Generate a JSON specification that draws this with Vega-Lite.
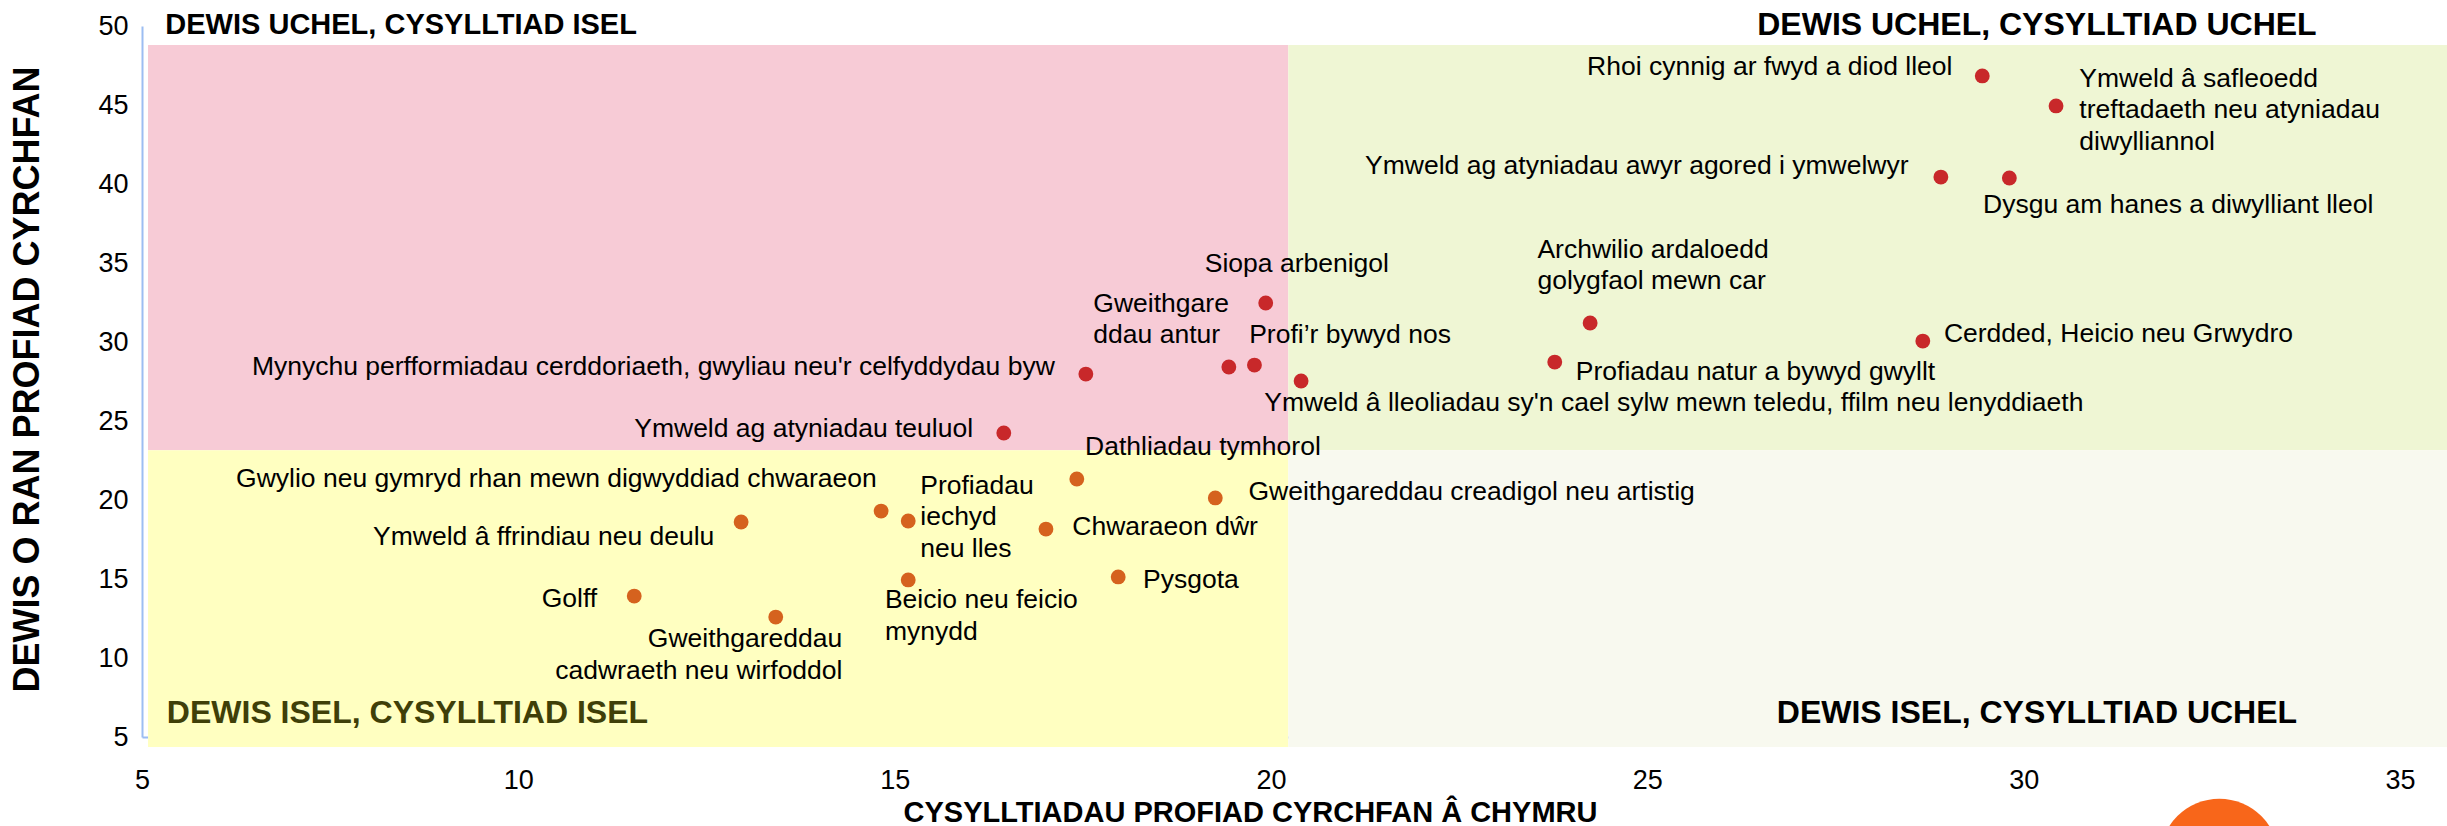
{
  "$schema": "https://vega.github.io/schema/vega-lite/v6.json",
  "width": 2258,
  "height": 711,
  "autosize": {"type": "none"},
  "padding": {"left": 142, "top": 26, "right": 47, "bottom": 89},
  "background": "white",
  "config": {
    "view": {"stroke": null},
    "font": "Liberation Sans",
    "axisX": {
      "titleFontSize": 29, "titleFontWeight": "bold", "titleFont": "Liberation Sans", "titleColor": "black",
      "titleX": 1108, "titleY": 84, "titleBaseline": "alphabetic", "titleAlign": "center",
      "labelFontSize": 27, "labelFont": "Liberation Sans", "labelColor": "black",
      "labelPadding": 30, "labelFlush": false, "labelOverlap": false, "labelBound": false,
      "ticks": false, "tickSize": 0, "grid": false,
      "domainColor": "#9CBDF2", "domainWidth": 2, "domainOpacity": 1, "zindex": 1
    },
    "axisY": {
      "titleFontSize": 36, "titleFontWeight": "bold", "titleFont": "Liberation Sans", "titleColor": "black",
      "titleX": -115, "titleY": 353, "titleAngle": 270, "titleBaseline": "middle", "titleAlign": "center",
      "labelFontSize": 27, "labelFont": "Liberation Sans", "labelColor": "black",
      "labelPadding": 14, "labelFlush": false, "labelOverlap": false, "labelBound": false,
      "ticks": false, "tickSize": 0, "grid": false,
      "domainColor": "#9CBDF2", "domainWidth": 2, "domainOpacity": 1, "zindex": 1
    }
  },
  "datasets": {
    "cwadrantau": [
      {"cwadrant": "Dewis uchel, cysylltiad isel", "x1": 5.08, "x2": 20.23, "y1": 23.15, "y2": 48.8},
      {"cwadrant": "Dewis uchel, cysylltiad uchel", "x1": 20.23, "x2": 36, "y1": 23.15, "y2": 48.8},
      {"cwadrant": "Dewis isel, cysylltiad isel", "x1": 5.08, "x2": 20.23, "y1": 4.37, "y2": 23.15},
      {"cwadrant": "Dewis isel, cysylltiad uchel", "x1": 20.23, "x2": 36, "y1": 4.37, "y2": 23.15}
    ],
    "teitlau": [
      {"teitl": "DEWIS UCHEL, CYSYLLTIAD ISEL", "x": 5.31, "y": 49.49, "cornel": "chwith-uchaf"},
      {"teitl": "DEWIS UCHEL, CYSYLLTIAD UCHEL", "x": 26.46, "y": 49.43, "cornel": "dde-uchaf"},
      {"teitl": "DEWIS ISEL, CYSYLLTIAD ISEL", "x": 5.33, "y": 5.89, "cornel": "chwith-isaf"},
      {"teitl": "DEWIS ISEL, CYSYLLTIAD UCHEL", "x": 26.72, "y": 5.89, "cornel": "dde-isaf"}
    ],
    "logo": [
      {"elfen": "cylch logo", "x": 32.6, "y": -2.66}
    ],
    "gweithgareddau": [
      {"gweithgaredd": "Rhoi cynnig ar fwyd a diod lleol", "cysylltiad": 29.45, "dewis": 46.84, "grwp": "uchel"},
      {"gweithgaredd": "Ymweld â safleoedd treftadaeth neu atyniadau diwylliannol", "cysylltiad": 30.43, "dewis": 44.94, "grwp": "uchel"},
      {"gweithgaredd": "Ymweld ag atyniadau awyr agored i ymwelwyr", "cysylltiad": 28.9, "dewis": 40.44, "grwp": "uchel"},
      {"gweithgaredd": "Dysgu am hanes a diwylliant lleol", "cysylltiad": 29.81, "dewis": 40.38, "grwp": "uchel"},
      {"gweithgaredd": "Archwilio ardaloedd golygfaol mewn car", "cysylltiad": 24.24, "dewis": 31.2, "grwp": "uchel"},
      {"gweithgaredd": "Cerdded, Heicio neu Grwydro", "cysylltiad": 28.66, "dewis": 30.06, "grwp": "uchel"},
      {"gweithgaredd": "Profiadau natur a bywyd gwyllt", "cysylltiad": 23.77, "dewis": 28.73, "grwp": "uchel"},
      {"gweithgaredd": "Siopa arbenigol", "cysylltiad": 19.93, "dewis": 32.47, "grwp": "uchel"},
      {"gweithgaredd": "Gweithgareddau antur", "cysylltiad": 19.44, "dewis": 28.42, "grwp": "uchel"},
      {"gweithgaredd": "Profi’r bywyd nos", "cysylltiad": 19.78, "dewis": 28.54, "grwp": "uchel"},
      {"gweithgaredd": "Ymweld â lleoliadau sy'n cael sylw mewn teledu, ffilm neu lenyddiaeth", "cysylltiad": 20.4, "dewis": 27.53, "grwp": "uchel"},
      {"gweithgaredd": "Mynychu perfformiadau cerddoriaeth, gwyliau neu'r celfyddydau byw", "cysylltiad": 17.54, "dewis": 27.97, "grwp": "uchel"},
      {"gweithgaredd": "Ymweld ag atyniadau teuluol", "cysylltiad": 16.45, "dewis": 24.24, "grwp": "uchel"},
      {"gweithgaredd": "Dathliadau tymhorol", "cysylltiad": 17.42, "dewis": 21.33, "grwp": "isel"},
      {"gweithgaredd": "Gweithgareddau creadigol neu artistig", "cysylltiad": 19.26, "dewis": 20.13, "grwp": "isel"},
      {"gweithgaredd": "Gwylio neu gymryd rhan mewn digwyddiad chwaraeon", "cysylltiad": 14.82, "dewis": 19.3, "grwp": "isel"},
      {"gweithgaredd": "Profiadau iechyd neu lles", "cysylltiad": 15.18, "dewis": 18.67, "grwp": "isel"},
      {"gweithgaredd": "Chwaraeon dŵr", "cysylltiad": 17.01, "dewis": 18.16, "grwp": "isel"},
      {"gweithgaredd": "Ymweld â ffrindiau neu deulu", "cysylltiad": 12.96, "dewis": 18.61, "grwp": "isel"},
      {"gweithgaredd": "Pysgota", "cysylltiad": 17.97, "dewis": 15.13, "grwp": "isel"},
      {"gweithgaredd": "Beicio neu feicio mynydd", "cysylltiad": 15.18, "dewis": 14.94, "grwp": "isel"},
      {"gweithgaredd": "Golff", "cysylltiad": 11.54, "dewis": 13.92, "grwp": "isel"},
      {"gweithgaredd": "Gweithgareddau cadwraeth neu wirfoddol", "cysylltiad": 13.42, "dewis": 12.59, "grwp": "isel"}
    ],
    "labeli": [
      {"label": "Rhoi cynnig ar fwyd a diod lleol", "lx": 24.2, "ly": 46.9},
      {"label": "Ymweld â safleoedd\ntreftadaeth neu atyniadau\ndiwylliannol", "lx": 30.74, "ly": 46.14},
      {"label": "Ymweld ag atyniadau awyr agored i ymwelwyr", "lx": 21.25, "ly": 40.63},
      {"label": "Dysgu am hanes a diwylliant lleol", "lx": 29.46, "ly": 38.16},
      {"label": "Archwilio ardaloedd\ngolygfaol mewn car", "lx": 23.54, "ly": 35.32},
      {"label": "Cerdded, Heicio neu Grwydro", "lx": 28.94, "ly": 30.0},
      {"label": "Profiadau natur a bywyd gwyllt", "lx": 24.05, "ly": 27.59},
      {"label": "Ymweld â lleoliadau sy'n cael sylw mewn teledu, ffilm neu lenyddiaeth", "lx": 19.91, "ly": 25.63},
      {"label": "Siopa arbenigol", "lx": 19.12, "ly": 34.43},
      {"label": "Gweithgare\nddau antur", "lx": 17.64, "ly": 31.9},
      {"label": "Profi’r bywyd nos", "lx": 19.71, "ly": 29.94},
      {"label": "Mynychu perfformiadau cerddoriaeth, gwyliau neu'r celfyddydau byw", "lx": 6.46, "ly": 27.91},
      {"label": "Ymweld ag atyniadau teuluol", "lx": 11.54, "ly": 23.99},
      {"label": "Dathliadau tymhorol", "lx": 17.53, "ly": 22.85},
      {"label": "Gweithgareddau creadigol neu artistig", "lx": 19.7, "ly": 20.0},
      {"label": "Gwylio neu gymryd rhan mewn digwyddiad chwaraeon", "lx": 6.25, "ly": 20.82},
      {"label": "Profiadau\niechyd\nneu lles", "lx": 15.34, "ly": 20.38},
      {"label": "Chwaraeon dŵr", "lx": 17.36, "ly": 17.78},
      {"label": "Ymweld â ffrindiau neu deulu", "lx": 8.07, "ly": 17.15},
      {"label": "Pysgota", "lx": 18.3, "ly": 14.43},
      {"label": "Beicio neu feicio\nmynydd", "lx": 14.87, "ly": 13.16},
      {"label": "Golff", "lx": 10.31, "ly": 13.23},
      {"label": "Gweithgareddau", "lx": 11.72, "ly": 10.7},
      {"label": "cadwraeth neu wirfoddol", "lx": 10.49, "ly": 8.67}
    ]
  },
  "layer": [
    {
      "data": {"name": "cwadrantau"},
      "mark": {"type": "rect"},
      "encoding": {
        "x": {
          "field": "x1", "type": "quantitative",
          "scale": {"domain": [5, 35], "nice": false, "zero": false},
          "axis": {"title": "CYSYLLTIADAU PROFIAD CYRCHFAN Â CHYMRU", "values": [5, 10, 15, 20, 25, 30, 35]}
        },
        "x2": {"field": "x2"},
        "y": {
          "field": "y1", "type": "quantitative",
          "scale": {"domain": [5, 50], "nice": false, "zero": false},
          "axis": {"title": "DEWIS O RAN PROFIAD CYRCHFAN", "values": [5, 10, 15, 20, 25, 30, 35, 40, 45, 50]}
        },
        "y2": {"field": "y2"},
        "fill": {
          "field": "cwadrant", "type": "nominal",
          "scale": {
            "domain": ["Dewis uchel, cysylltiad isel", "Dewis uchel, cysylltiad uchel", "Dewis isel, cysylltiad isel", "Dewis isel, cysylltiad uchel"],
            "range": ["#F7CBD6", "#EFF6D4", "#FFFFC1", "#F8F9EF"]
          },
          "legend": null
        }
      }
    },
    {
      "data": {"name": "teitlau"},
      "mark": {"type": "text", "align": "left", "baseline": "alphabetic", "fontWeight": "bold", "font": "Liberation Sans"},
      "encoding": {
        "x": {"field": "x", "type": "quantitative", "scale": {"domain": [5, 35], "nice": false, "zero": false},
          "axis": {"title": "CYSYLLTIADAU PROFIAD CYRCHFAN Â CHYMRU", "values": [5, 10, 15, 20, 25, 30, 35]}},
        "y": {"field": "y", "type": "quantitative", "scale": {"domain": [5, 50], "nice": false, "zero": false},
          "axis": {"title": "DEWIS O RAN PROFIAD CYRCHFAN", "values": [5, 10, 15, 20, 25, 30, 35, 40, 45, 50]}},
        "text": {"field": "teitl"},
        "color": {
          "field": "cornel", "type": "nominal",
          "scale": {"domain": ["chwith-uchaf", "dde-uchaf", "chwith-isaf", "dde-isaf"], "range": ["#000000", "#000000", "#3F3F08", "#000000"]},
          "legend": null
        },
        "size": {
          "field": "cornel", "type": "nominal",
          "scale": {"type": "ordinal", "domain": ["chwith-uchaf", "dde-uchaf", "chwith-isaf", "dde-isaf"], "range": [29, 32, 32, 32]},
          "legend": null
        }
      }
    },
    {
      "data": {"name": "logo"},
      "mark": {"type": "circle", "size": 14100, "opacity": 1, "color": "#F8661A"},
      "encoding": {
        "x": {"field": "x", "type": "quantitative", "scale": {"domain": [5, 35], "nice": false, "zero": false},
          "axis": {"title": "CYSYLLTIADAU PROFIAD CYRCHFAN Â CHYMRU", "values": [5, 10, 15, 20, 25, 30, 35]}},
        "y": {"field": "y", "type": "quantitative", "scale": {"domain": [5, 50], "nice": false, "zero": false},
          "axis": {"title": "DEWIS O RAN PROFIAD CYRCHFAN", "values": [5, 10, 15, 20, 25, 30, 35, 40, 45, 50]}}
      }
    },
    {
      "data": {"name": "gweithgareddau"},
      "mark": {"type": "circle", "size": 220, "opacity": 1},
      "encoding": {
        "x": {"field": "cysylltiad", "type": "quantitative", "scale": {"domain": [5, 35], "nice": false, "zero": false},
          "axis": {"title": "CYSYLLTIADAU PROFIAD CYRCHFAN Â CHYMRU", "values": [5, 10, 15, 20, 25, 30, 35]}},
        "y": {"field": "dewis", "type": "quantitative", "scale": {"domain": [5, 50], "nice": false, "zero": false},
          "axis": {"title": "DEWIS O RAN PROFIAD CYRCHFAN", "values": [5, 10, 15, 20, 25, 30, 35, 40, 45, 50]}},
        "color": {
          "field": "grwp", "type": "nominal",
          "scale": {"domain": ["uchel", "isel"], "range": ["#C8282A", "#D5621E"]},
          "legend": null
        }
      }
    },
    {
      "data": {"name": "labeli"},
      "mark": {"type": "text", "align": "left", "baseline": "alphabetic", "fontSize": 26.5, "font": "Liberation Sans", "color": "#000000", "lineBreak": "\n", "lineHeight": 31.5},
      "encoding": {
        "x": {"field": "lx", "type": "quantitative", "scale": {"domain": [5, 35], "nice": false, "zero": false},
          "axis": {"title": "CYSYLLTIADAU PROFIAD CYRCHFAN Â CHYMRU", "values": [5, 10, 15, 20, 25, 30, 35]}},
        "y": {"field": "ly", "type": "quantitative", "scale": {"domain": [5, 50], "nice": false, "zero": false},
          "axis": {"title": "DEWIS O RAN PROFIAD CYRCHFAN", "values": [5, 10, 15, 20, 25, 30, 35, 40, 45, 50]}},
        "text": {"field": "label"}
      }
    }
  ],
  "resolve": {"scale": {"color": "independent", "size": "independent"}}
}
